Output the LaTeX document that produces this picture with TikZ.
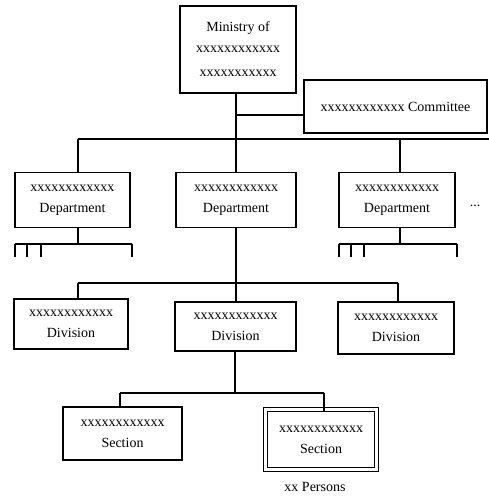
\documentclass[tikz,border=0pt]{standalone}
\usepackage{fontspec}
\setmainfont{Liberation Serif}
\begin{document}
\begin{tikzpicture}[x=1pt,y=-1pt,
  every node/.style={font=\fontsize{14}{21}\selectfont, inner sep=0pt},
  box/.style={draw, line width=1.1pt, align=center, fill=white},
  conn/.style={line width=1.1pt}]
\useasboundingbox (0,0) rectangle (489,498);
% nodes
\node[box, minimum width=116pt, minimum height=87pt] (min) at (238,49.5)
  {Ministry of\\xxxxxxxxxxxx\\[3pt]xxxxxxxxxxx};
\node[box, minimum width=183pt, minimum height=53pt] (com) at (395.5,106.5)
  {xxxxxxxxxxxx Committee};
\node[box, minimum width=115pt, minimum height=55pt] (d1) at (72.5,200)
  {xxxxxxxxxxxx\\Department};
\node[box, minimum width=120pt, minimum height=55pt] (d2) at (236,200)
  {xxxxxxxxxxxx\\Department};
\node[box, minimum width=116pt, minimum height=55pt] (d3) at (397,200)
  {xxxxxxxxxxxx\\Department};
\node (dots) at (475,206) {...};
\node[box, minimum width=114pt, minimum height=50pt] (v1) at (71,324)
  {xxxxxxxxxxxx\\Division};
\node[box, minimum width=121pt, minimum height=49pt] (v2) at (235.5,326.5)
  {xxxxxxxxxxxx\\Division};
\node[box, minimum width=116pt, minimum height=52pt] (v3) at (396,328)
  {xxxxxxxxxxxx\\Division};
\node[box, minimum width=119pt, minimum height=53pt] (s1) at (122.5,433.5)
  {xxxxxxxxxxxx\\Section};
\node[box, double, double distance=3.2pt, line width=1pt, minimum width=111.5pt, minimum height=60.5pt] (s2) at (321,439.5)
  {xxxxxxxxxxxx\\Section};
\node (pers) at (315,487) {xx Persons};
% junction coordinates
\coordinate (cj) at (236,115);
\coordinate (b1) at (78,139);
\coordinate (b2) at (236,139);
\coordinate (b3) at (400,139);
\coordinate (bR) at (489,139);
\coordinate (l1) at (78,244);
\coordinate (lA) at (15,244);
\coordinate (lB) at (27,244);
\coordinate (lC) at (41,244);
\coordinate (lD) at (132,244);
\coordinate (r1) at (400,244);
\coordinate (rA) at (339,244);
\coordinate (rB) at (351,244);
\coordinate (rC) at (364,244);
\coordinate (rD) at (457,244);
\coordinate (vb1) at (78,283);
\coordinate (vb2) at (236,283);
\coordinate (vb3) at (398,283);
\coordinate (sb1) at (120,393);
\coordinate (sb2) at (235,393);
\coordinate (sb3) at (324,393);
% connectors
\draw[conn] (min.south -| b2) -- (b2);
\draw[conn] (cj) -- (cj -| com.west);
\draw[conn] (b1) -- (bR);
\draw[conn] (b1) -- (b1 |- d1.north);
\draw[conn] (b2) -- (b2 |- d2.north);
\draw[conn] (b3) -- (b3 |- d3.north);
% left department sub-bus
\draw[conn] (l1 |- d1.south) -- (l1);
\draw[conn] (lA) -- (lD);
\foreach \t in {lA,lB,lC,lD} \draw[conn] (\t) -- ++(0,13);
% right department sub-bus
\draw[conn] (r1 |- d3.south) -- (r1);
\draw[conn] (rA) -- (rD);
\foreach \t in {rA,rB,rC,rD} \draw[conn] (\t) -- ++(0,13);
% divisions
\draw[conn] (d2.south -| vb2) -- (vb2 |- v2.north);
\draw[conn] (vb1) -- (vb3);
\draw[conn] (vb1) -- (vb1 |- v1.north);
\draw[conn] (vb3) -- (vb3 |- v3.north);
% sections
\draw[conn] (v2.south -| sb2) -- (sb2);
\draw[conn] (sb1) -- (sb3);
\draw[conn] (sb1) -- (sb1 |- s1.north);
\draw[conn] (sb3) -- ([yshift=-2.1pt]sb3 |- s2.north);
\end{tikzpicture}
\end{document}
